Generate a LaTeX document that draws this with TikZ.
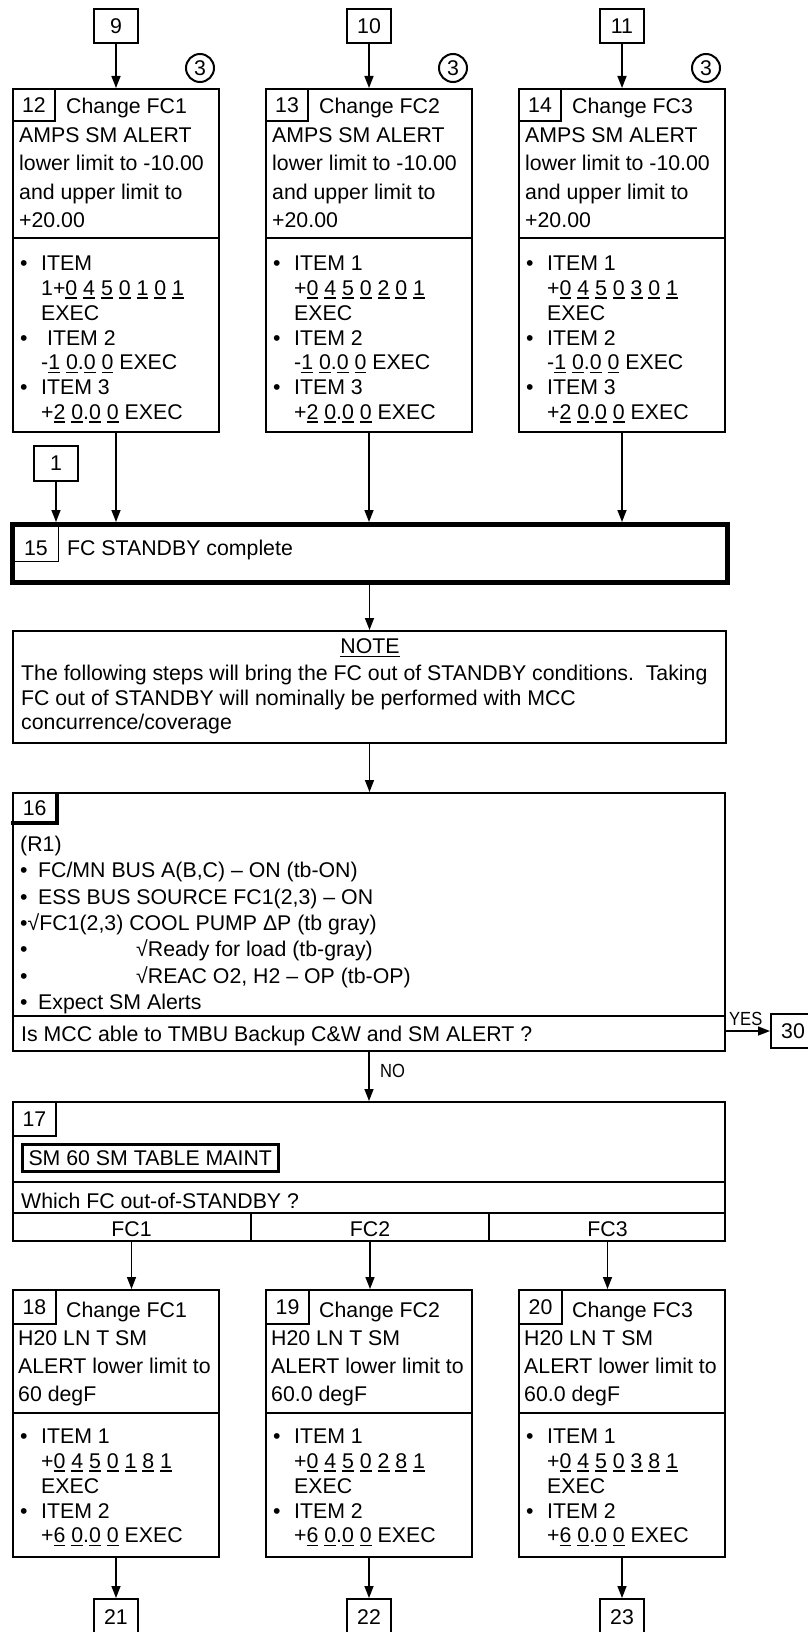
\documentclass[tikz,border=0pt]{standalone}
\usepackage{fontspec}
\setmainfont{Liberation Sans}
\usetikzlibrary{arrows.meta}
\newcommand{\ud}[1]{\setbox0\hbox{#1}\rlap{\rule[-3.2pt]{\wd0}{1.5pt}}\box0\relax}
\newcommand{\dfont}{\fontsize{21.3}{24.8}\selectfont}
\newcommand{\bi}{\makebox[21pt][l]{•}}
\newcommand{\ind}{\hspace*{21pt}}
\newcommand{\lb}[1]{\makebox[#1][l]{•}}
\newcommand{\topbox}[5]{%
  \node[box, anchor=north west, minimum width=206pt, minimum height=343pt] (s#2) at (#1,88) {};
  \node[box, anchor=north west, minimum width=42pt, minimum height=32pt, inner sep=0pt, font=\dfont] (n#2) at (#1,88) {#2};
  \draw[line width=2pt] (#1,238) -- (#1+208,238);
  \node[txt] (h#2) at (#1+7,113.6) {\parbox[t]{205pt}{\fontsize{21.3}{28.5}\selectfont\hspace*{47pt}Change FC#3\\AMPS SM ALERT\\lower limit to -10.00\\and upper limit to\\+20.00}};
  \node[txt] (i#2) at (#1+8,270.6) {\parbox[t]{200pt}{\dfont #4}};
  \node[box, circle, minimum size=28pt, inner sep=0pt, font=\dfont] (c#2) at (#1+188,68) {3};
  \node[box, minimum width=44pt, minimum height=34pt, inner sep=0pt, font=\dfont] (r#5) at (#1+104,26) {#5};
  \draw[arr] (r#5) -- (s#2);
}
\newcommand{\botbox}[6]{%
  \node[box, anchor=north west, minimum width=206pt, minimum height=267pt] (s#2) at (#1,1289) {};
  \node[box, anchor=north west, minimum width=43pt, minimum height=34pt, inner sep=0pt, font=\dfont] (n#2) at (#1,1289) {#2};
  \draw[line width=2pt] (#1,1413) -- (#1+208,1413);
  \node[txt] (h#2) at (#1+6,1317.6) {\parbox[t]{205pt}{\fontsize{21.3}{28}\selectfont\hspace*{48pt}Change FC#3\\H20 LN T SM\\ALERT lower limit to\\#4 degF}};
  \node[txt] (i#2) at (#1+8,1443.6) {\parbox[t]{200pt}{\dfont\bi ITEM 1\\\ind+\ud{0} \ud{4} \ud{5} \ud{0} \ud{#3} \ud{8} \ud{1}\\\ind EXEC\\\bi ITEM 2\\\ind+\ud{6} \ud{0}.\ud{0} \ud{0} EXEC}};
  \node[box, anchor=north, minimum width=44pt, minimum height=36pt, inner sep=0pt, font=\dfont] (r#5) at (#1+104,1598) {#5};
  \draw[arr] (s#2) -- (r#5);
  \draw[arr] (#6 |- s17.south) -- (#6 |- s#2.north);
}
\begin{document}
\begin{tikzpicture}[x=1pt,y=-1pt,
  box/.style={draw, line width=2pt},
  arr/.style={line width=1.5pt, -{Triangle[length=12pt,width=9pt]}},
  txt/.style={anchor=base west, inner sep=0pt},
  ctxt/.style={inner sep=0pt, font=\dfont}]
\fill[white] (0,0) rectangle (807,1632);
\useasboundingbox (0,0) rectangle (807,1632);

% top row
\topbox{12}{12}{1}{\bi ITEM\\\ind 1+\ud{0} \ud{4} \ud{5} \ud{0} \ud{1} \ud{0} \ud{1}\\\ind EXEC\\\bi\ ITEM 2\\\ind-\ud{1} \ud{0}.\ud{0} \ud{0} EXEC\\\bi ITEM 3\\\ind+\ud{2} \ud{0}.\ud{0} \ud{0} EXEC}{9}
\topbox{265}{13}{2}{\bi ITEM 1\\\ind+\ud{0} \ud{4} \ud{5} \ud{0} \ud{2} \ud{0} \ud{1}\\\ind EXEC\\\bi ITEM 2\\\ind-\ud{1} \ud{0}.\ud{0} \ud{0} EXEC\\\bi ITEM 3\\\ind+\ud{2} \ud{0}.\ud{0} \ud{0} EXEC}{10}
\topbox{518}{14}{3}{\bi ITEM 1\\\ind+\ud{0} \ud{4} \ud{5} \ud{0} \ud{3} \ud{0} \ud{1}\\\ind EXEC\\\bi ITEM 2\\\ind-\ud{1} \ud{0}.\ud{0} \ud{0} EXEC\\\bi ITEM 3\\\ind+\ud{2} \ud{0}.\ud{0} \ud{0} EXEC}{11}

% box 1
\node[box, minimum width=44pt, minimum height=35pt, inner sep=0pt, font=\dfont] (r1) at (56,463.5) {1};

% step 15
\node[draw, line width=5pt, anchor=north west, minimum width=715pt, minimum height=58pt] (s15) at (10,522) {};
\node[draw, line width=1.5pt, anchor=north west, minimum width=45pt, minimum height=36pt] (n15) at (12.5,524.5) {};
\node[ctxt] (n15t) at (36,548) {15};
\node[txt] (t15) at (67,555.6) {\dfont FC STANDBY complete};
\draw[arr] (r1) -- (r1 |- s15.north);
\draw[arr] (s12) -- (s12 |- s15.north);
\draw[arr] (s13) -- (s13 |- s15.north);
\draw[arr] (s14) -- (s14 |- s15.north);

% note
\node[box, anchor=north west, minimum width=713pt, minimum height=112pt] (note) at (12,630) {};
\node[ctxt] (notet) at (370,648) {\ud{NOTE}};
\node[txt] (notebody) at (21,680.6) {\parbox[t]{705pt}{\fontsize{21.3}{24.5}\selectfont The following steps will bring the FC out of STANDBY conditions.\ \ Taking\\FC out of STANDBY will nominally be performed with MCC\\concurrence/coverage}};
\draw[arr] (s15.south -| note.north) -- (note.north);

% step 16
\node[box, anchor=north west, minimum width=712pt, minimum height=258pt] (s16) at (12,792) {};
\node[anchor=north west, minimum width=45pt, minimum height=31pt, inner sep=0pt, font=\dfont] (n16) at (12,792) {16};
\draw[line width=4pt] (n16.north east) -- (n16.south east) -- ([xshift=-1pt]n16.south west);
\draw[arr] (note.south) -- (note.south |- s16.north);
\node[txt] (b16) at (20,851.6) {\parbox[t]{700pt}{\fontsize{21.3}{26.3}\selectfont (R1)\\\lb{18pt}FC/MN BUS A(B,C) – ON (tb-ON)\\\lb{18pt}ESS BUS SOURCE FC1(2,3) – ON\\•√FC1(2,3) COOL PUMP ΔP (tb gray)\\\lb{116pt}√Ready for load (tb-gray)\\\lb{116pt}√REAC O2, H2 – OP (tb-OP)\\\lb{18pt}Expect SM Alerts}};
\draw[line width=2pt] (12,1016) -- (726,1016);
\node[txt] (q16) at (21,1041.6) {\dfont Is MCC able to TMBU Backup C\&W and SM ALERT ?};

% yes -> 30
\node[box, anchor=west, minimum width=44pt, minimum height=34pt, inner sep=0pt, font=\dfont] (r30) at (770,1031) {30};
\draw[arr] (s16.east |- r30.west) -- (r30.west);
\node[txt] (yes) at (729,1025) {\fontsize{19}{19}\selectfont\scalebox{0.87}[1]{YES}};

% step 17
\node[box, anchor=north west, minimum width=712pt, minimum height=139pt] (s17) at (12,1101) {};
\draw[arr] (s16.south) -- (s17.north);
\node[txt] (no) at (380,1077) {\fontsize{19}{19}\selectfont\scalebox{0.87}[1]{NO}};
\node[box, anchor=north west, minimum width=43pt, minimum height=34pt, inner sep=0pt, font=\dfont] (n17) at (12,1101) {17};
\node[draw, line width=2.5pt, anchor=north west, minimum width=256pt, minimum height=27pt, inner sep=0pt, font=\dfont] (sm60) at (21,1143) {SM 60 SM TABLE MAINT};
\draw[line width=2pt] (12,1182) -- (726,1182);
\node[txt] (q17) at (21,1208) {\dfont Which FC out-of-STANDBY ?};
\draw[line width=2pt] (12,1213) -- (726,1213);
\draw[line width=2pt] (251,1213) -- (251,1242);
\draw[line width=2pt] (489,1213) -- (489,1242);
\node[ctxt] (fc1) at (131.5,1229) {FC1};
\node[ctxt] (fc2) at (370,1229) {FC2};
\node[ctxt] (fc3) at (607.5,1229) {FC3};

% bottom row
\botbox{12}{18}{1}{60}{21}{fc1}
\botbox{265}{19}{2}{60.0}{22}{fc2}
\botbox{518}{20}{3}{60.0}{23}{fc3}
\end{tikzpicture}
\end{document}
